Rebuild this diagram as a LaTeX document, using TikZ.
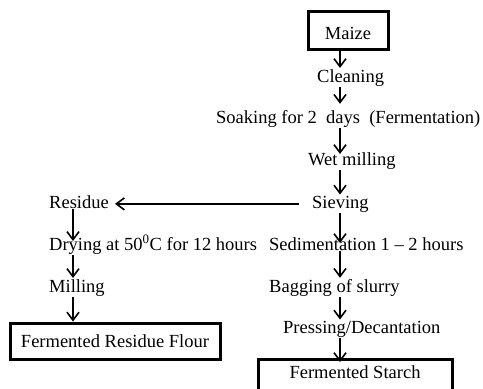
\documentclass[tikz,border=0pt]{standalone}
\usepackage{fontspec}
\setmainfont{Liberation Serif}
\usetikzlibrary{arrows.meta}
\begin{document}
\begin{tikzpicture}[font=\fontsize{18.5}{22}\selectfont, >={Straight Barb[length=8pt,width=12pt]},
          x=1pt, y=-1pt,
          stage/.style={inner sep=1pt, anchor=base west},
          endbox/.style={draw, line width=3pt, inner xsep=0pt},
          flow/.style={->, line width=1.6pt}]
        \clip (0,0) rectangle (483,389);
        \coordinate (rcol) at (340,0);
        \coordinate (lcol) at (73,0);
        \node[endbox, anchor=north, minimum width=80, text height=22pt, text depth=4pt, inner ysep=6pt] (maize) at (348,10) {Maize};
        \node[stage] (cleaning) at (316,82) {Cleaning};
        \node[stage] (soaking) at (215,123) {Soaking for 2 \ days \ (Fermentation)};
        \node[stage] (wetmill) at (307,165) {Wet milling};
        \node[stage] (sieving) at (311,208) {Sieving};
        \node[stage] (residue) at (48,208) {Residue};
        \node[stage] (drying) at (48,250) {Drying at 50\textsuperscript{0}C for 12 hours};
        \node[stage] (sediment) at (268,250) {Sedimentation 1 -- 2 hours};
        \node[stage] (milling) at (48,292) {Milling};
        \node[stage] (bagging) at (268,292) {Bagging of slurry};
        \node[stage] (pressing) at (282,333) {Pressing/Decantation};
        \node[endbox, minimum width=210, minimum height=36] (resflour) at (115,341) {Fermented Residue Flour};
        \node[endbox, anchor=north, minimum width=194, text height=14pt, text depth=20pt, inner ysep=5pt] (starch) at (355,358) {Fermented Starch};
        \draw[flow] (maize.south -| rcol) -- (cleaning.north -| rcol);
        \draw[flow, shorten >=5pt] (cleaning.south -| rcol) -- (soaking.north -| rcol);
        \draw[flow, shorten >=-3pt] (soaking.south -| rcol) -- (wetmill.north -| rcol);
        \draw[flow] (wetmill.south -| rcol) -- (sieving.north -| rcol);
        \draw[flow, shorten <=12pt, shorten >=5pt] (sieving.west) -- (residue.east |- sieving.west);
        \draw[flow, shorten >=-7pt] (residue.south -| lcol) -- (drying.north -| lcol);
        \draw[flow, shorten >=-7pt] (sieving.south -| rcol) -- (sediment.north -| rcol);
        \draw[flow] (drying.south -| lcol) -- (milling.north -| lcol);
        \draw[flow] (sediment.south -| rcol) -- (bagging.north -| rcol);
        \draw[flow] (milling.south -| lcol) -- (resflour.north -| lcol);
        \draw[flow] (bagging.south -| rcol) -- (pressing.north -| rcol);
        \draw[flow, shorten >=-4pt] (pressing.south -| rcol) -- (starch.north -| rcol);
      \end{tikzpicture}
\end{document}
